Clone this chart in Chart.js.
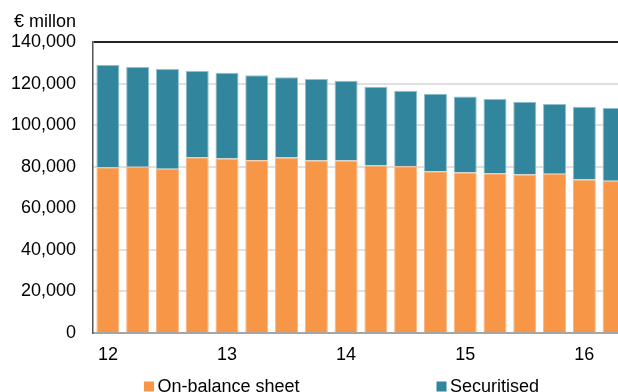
<!DOCTYPE html>
<html>
<head>
<meta charset="utf-8">
<script src="https://cdn.jsdelivr.net/npm/chart.js@4/dist/chart.umd.min.js"></script>
<style>
  html, body { margin: 0; padding: 0; background: #fff; overflow: hidden; }
  #wrap { position: relative; width: 618px; height: 392px; overflow: hidden; }
  canvas { position: absolute; left: 0; top: 0; }
</style>
</head>
<body>
<div id="wrap"><canvas id="c" width="629" height="392"></canvas></div>
<script>
// Quarterly periods, 2012 Q1 to 2016 Q2
const periods = [
  '2012Q1','2012Q2','2012Q3','2012Q4',
  '2013Q1','2013Q2','2013Q3','2013Q4',
  '2014Q1','2014Q2','2014Q3','2014Q4',
  '2015Q1','2015Q2','2015Q3','2015Q4',
  '2016Q1','2016Q2'
];
// Year label shown under the first quarter of each year
const yearLabels = ['12', '13', '14', '15', '16'];

// € million
const onBalanceSheet = [
  79800, 80000, 79000, 84500,
  84000, 83100, 84400, 83000,
  83000, 80600, 80200, 77800,
  77200, 76900, 76300, 76600,
  73900, 73200
];
const securitised = [
  49100, 48000, 48000, 41600,
  41200, 40900, 38700, 39200,
  38300, 37900, 36300, 37300,
  36600, 35700, 35000, 33600,
  35000, 35000
];

const seriesNames = ['On-balance sheet', 'Securitised'];
const seriesColors = ['#F79646', '#31859C'];
const seriesEdges = ['#f9b481', '#8fc0cf'];
const unitLabel = '€ millon';

const FONT = "'Liberation Sans', Arial, sans-serif";
Chart.defaults.font.family = FONT;
Chart.defaults.font.size = 18;
Chart.defaults.color = '#000';

// Unit label above the value axis and the legend row under the chart
const annotations = {
  id: 'annotations',
  afterDraw(chart) {
    const ctx = chart.ctx;
    ctx.save();
    ctx.fillStyle = '#000';
    ctx.font = '18px ' + FONT;
    ctx.textBaseline = 'alphabetic';
    ctx.textAlign = 'left';
    ctx.fillText(unitLabel, 14, 26.5);

    const items = [
      { x: 144, name: seriesNames[0], color: seriesColors[0] },
      { x: 436.5, name: seriesNames[1], color: seriesColors[1] }
    ];
    items.forEach(it => {
      ctx.fillStyle = it.color;
      ctx.fillRect(it.x, 381.5, 10, 10);
      ctx.fillStyle = '#000';
      ctx.fillText(it.name, it.x + 13.5, 392);
    });
    ctx.restore();
  }
};

new Chart(document.getElementById('c'), {
  type: 'bar',
  data: {
    labels: periods,
    datasets: [
      {
        label: seriesNames[0],
        data: onBalanceSheet,
        backgroundColor: seriesColors[0],
        borderColor: seriesEdges[0],
        borderWidth: 1
      },
      {
        label: seriesNames[1],
        data: securitised,
        backgroundColor: seriesColors[1],
        borderColor: seriesEdges[1],
        borderWidth: 1
      }
    ]
  },
  options: {
    responsive: false,
    animation: false,
    events: [],
    layout: { padding: { top: 42, left: 0, right: 0, bottom: 0 } },
    datasets: {
      bar: { categoryPercentage: 1, barPercentage: 0.773 }
    },
    plugins: {
      legend: { display: false },
      tooltip: { enabled: false }
    },
    scales: {
      x: {
        stacked: true,
        grid: { display: false, drawTicks: false },
        border: { display: true, color: '#a6a6a6', width: 2 },
        ticks: {
          autoSkip: false,
          maxRotation: 0,
          padding: 11,
          callback: (v, i) => (i % 4 === 0 ? yearLabels[i / 4] : '')
        },
        afterFit: s => { s.height = 59; }
      },
      y: {
        stacked: true,
        min: 0,
        max: 140000,
        grid: {
          drawTicks: false,
          color: c => (c.tick && c.tick.value === 140000 ? '#222' : '#e0e0e0'),
          lineWidth: 2
        },
        border: { display: true, color: '#555', width: 1.5 },
        ticks: {
          stepSize: 20000,
          padding: 17,
          callback: v => v.toLocaleString('en-US')
        },
        afterFit: s => { s.width = 93; }
      }
    }
  },
  plugins: [annotations]
});
</script>
</body>
</html>
